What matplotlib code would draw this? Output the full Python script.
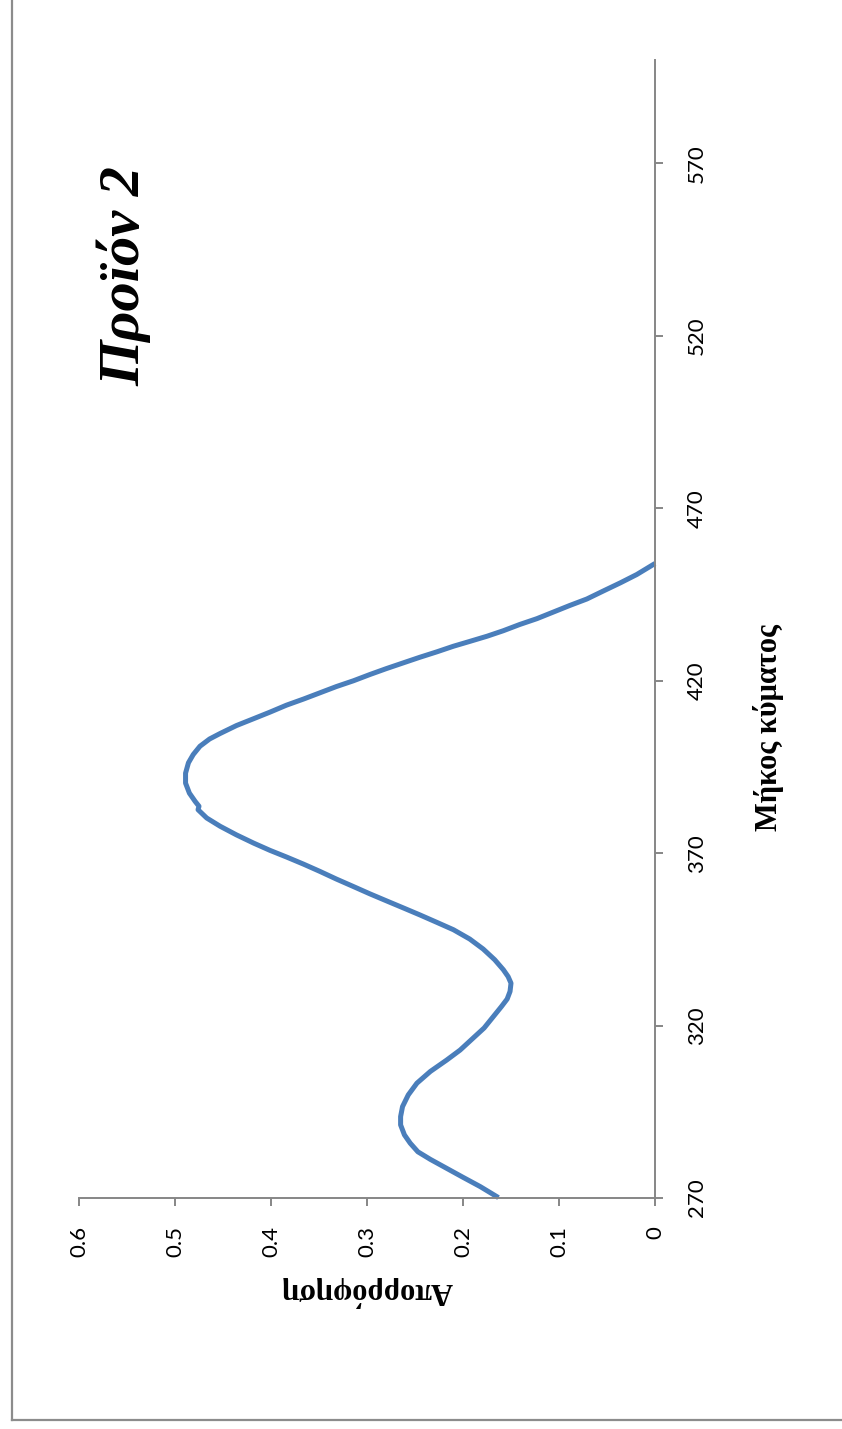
import unicodedata
import matplotlib
matplotlib.use("Agg")
import matplotlib.pyplot as plt
from matplotlib.lines import Line2D

# Absorption spectrum of product 2 (wavelength in nm, absorbance)
wavelength = [270.1, 273.3, 276.0, 278.6, 281.2, 283.4, 285.9, 288.3, 291.2, 293.6,
              296.5, 299.9, 303.3, 306.7, 310.0, 312.9, 319.3, 325.5, 327.7, 329.9,
              332.3, 334.2, 336.2, 339.1, 342.2, 345.1, 347.8, 349.9, 352.1, 354.1,
              356.2, 358.2, 360.3, 362.5, 364.7, 366.8, 368.9, 370.8, 372.9, 375.3,
              377.8, 380.2, 382.6, 383.6, 385.0, 387.4, 390.3, 393.2, 396.2, 398.6,
              401.0, 403.1, 404.7, 407.0, 409.0, 410.9, 412.9, 414.7, 416.5, 418.3,
              420.0, 421.8, 423.5, 425.2, 426.8, 428.4, 430.0, 431.4, 432.9, 434.5,
              436.3, 438.0, 439.9, 441.8, 443.7, 446.0, 448.4, 450.8, 454.0]
absorbance = [0.163, 0.182, 0.200, 0.217, 0.234, 0.247, 0.255, 0.261, 0.265, 0.265,
              0.263, 0.257, 0.248, 0.234, 0.217, 0.203, 0.178, 0.160, 0.154, 0.151,
              0.150, 0.153, 0.158, 0.167, 0.179, 0.193, 0.210, 0.227, 0.245, 0.262,
              0.280, 0.297, 0.314, 0.332, 0.349, 0.366, 0.384, 0.401, 0.418, 0.436,
              0.453, 0.467, 0.476, 0.475, 0.479, 0.485, 0.489, 0.489, 0.486, 0.481,
              0.474, 0.464, 0.453, 0.436, 0.418, 0.401, 0.384, 0.366, 0.349, 0.332,
              0.314, 0.297, 0.280, 0.262, 0.245, 0.227, 0.210, 0.193, 0.175, 0.158,
              0.141, 0.123, 0.106, 0.089, 0.071, 0.054, 0.036, 0.019, 0.000]

wl_ticks = [270, 320, 370, 420, 470, 520, 570]
abs_ticks = [0, 0.1, 0.2, 0.3, 0.4, 0.5, 0.6]
abs_labels = ["0", "0.1", "0.2", "0.3", "0.4", "0.5", "0.6"]


def nfc(s):
    return unicodedata.normalize("NFC", s)


title = nfc("Προϊόν 2")
x_title = nfc("Μήκος κύματος")
y_title = nfc("Απορρόφηση")

W, H = 842, 1429
fig = plt.figure(figsize=(W / 100, H / 100), dpi=100)
fig.patch.set_facecolor("white")

# page frame (left and bottom edges)
fig.add_artist(Line2D([12 / W, 12 / W], [1 - 1420 / H, 1.0], color="#8c8c8c", lw=1.6))
fig.add_artist(Line2D([12 / W, 1.0], [1 - 1420 / H, 1 - 1420 / H], color="#8c8c8c", lw=1.6))

# page-rotated chart: wavelength runs upward, absorbance grows to the left
left, right = 79 / W, 655 / W
bottom, top = 1 - 1198 / H, 1 - 60 / H
ax = fig.add_axes([left, bottom, right - left, top - bottom])

ax.plot(absorbance, wavelength, color="#4a7ebb", lw=3.6, solid_capstyle="butt",
        solid_joinstyle="round", clip_on=False)

ax.set_xlim(0.6, 0)
ax.set_ylim(270, 600)

for s in ("left", "top"):
    ax.spines[s].set_visible(False)
for s in ("right", "bottom"):
    ax.spines[s].set_color("#868686")
    ax.spines[s].set_linewidth(1.4)

ax.yaxis.tick_right()
ax.set_yticks(wl_ticks)
ax.set_yticklabels([str(t) for t in wl_ticks], rotation=90, va="center",
                   family="Lato", fontsize=16)
ax.set_xticks(abs_ticks)
ax.set_xticklabels(abs_labels, rotation=90, family="Lato", fontsize=16)
ax.tick_params(axis="y", direction="out", length=6, width=1.4, color="#868686", pad=17)
ax.tick_params(axis="x", direction="out", length=6, width=1.4, color="#868686", pad=14)

serif = "Liberation Serif"
fig.text(769 / W, 1 - 728 / H, x_title, rotation=90, ha="center", va="center",
         family=serif, fontweight="bold", fontsize=22)
fig.text(367 / W, 1 - 1292 / H, y_title, rotation=180, ha="center", va="center",
         family=serif, fontweight="bold", fontsize=22)
fig.text(124 / W, 1 - 276 / H, title, rotation=90, ha="center", va="center",
         family=serif, fontweight="bold", fontstyle="italic", fontsize=42)

fig.savefig("out.png", dpi=100, facecolor="white")
